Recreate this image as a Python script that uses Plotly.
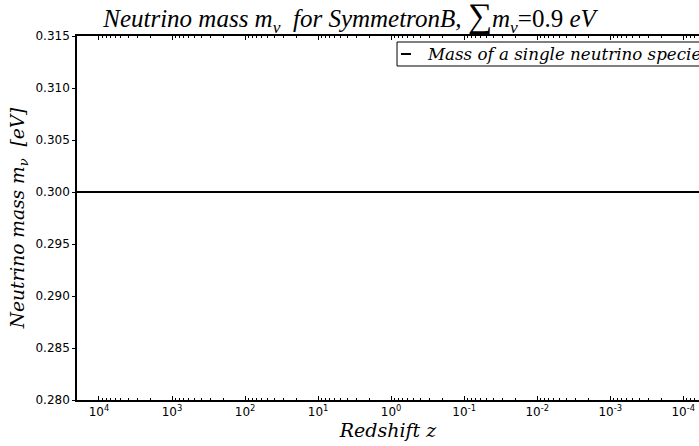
import plotly.graph_objects as go

# ---- data ----
redshift = [3e4, 1e4, 1e3, 1e2, 1e1, 1e0, 1e-1, 1e-2, 1e-3, 1e-4, 1e-5]
neutrino_mass = [0.3, 0.3, 0.3, 0.3, 0.3, 0.3, 0.3, 0.3, 0.3, 0.3, 0.3]
x_tick_vals = [1e4, 1e3, 1e2, 1e1, 1e0, 1e-1, 1e-2, 1e-3, 1e-4]
x_tick_text = ["10<sup>4</sup>", "10<sup>3</sup>", "10<sup>2</sup>", "10<sup>1</sup>",
               "10<sup>0</sup>", "10<sup>-1</sup>", "10<sup>-2</sup>", "10<sup>-3</sup>",
               "10<sup>-4</sup>"]
y_tick_vals = [0.280, 0.285, 0.290, 0.295, 0.300, 0.305, 0.310, 0.315]
y_tick_text = ["0.280", "0.285", "0.290", "0.295", "0.300", "0.305", "0.310", "0.315"]
legend_label = "Mass of a single neutrino species"

minor_vals = [m * 10 ** e for e in range(-5, 5) for m in range(2, 10)]

SERIF = "Liberation Serif, DejaVu Serif, serif"
WSERIF = "DejaVu Serif, serif"
SANS = "DejaVu Sans, sans-serif"

fig = go.Figure()
fig.add_trace(go.Scatter(x=redshift, y=neutrino_mass, mode="lines",
                         line=dict(color="black", width=2), showlegend=False,
                         name=legend_label))

fig.update_layout(
    width=699, height=446,
    margin=dict(l=77, r=0, t=36, b=46),
    paper_bgcolor="white", plot_bgcolor="white",
    title=dict(text="<i>Neutrino mass m<sub>ν</sub>  for SymmetronB,</i> <span style='font-size:34px'>∑</span><i>m<sub>ν</sub></i>=0.9 <i>eV</i>",
               x=0.5, xanchor="center", y=0.958, yanchor="middle",
               font=dict(family=SERIF, size=25, color="black")),
    xaxis=dict(type="log", range=[4.301, -4.215], autorange=False,
               tickmode="array", tickvals=x_tick_vals, ticktext=x_tick_text,
               ticks="inside", ticklen=4, tickcolor="black",
               showline=True, linecolor="black", linewidth=1.5, mirror="ticks",
               showgrid=False, zeroline=False,
               tickfont=dict(family=SANS, size=12, color="black"),
               minor=dict(tickmode="array", tickvals=minor_vals, ticks="inside",
                          ticklen=2, tickcolor="black", showgrid=False),
               title=dict(text="<i>Redshift z</i>", standoff=4,
                          font=dict(family=WSERIF, size=19, color="black"))),
    yaxis=dict(range=[0.280, 0.315], autorange=False,
               tickmode="array", tickvals=y_tick_vals, ticktext=y_tick_text,
               ticks="outside", ticklen=3, tickcolor="black",
               showline=True, linecolor="black", linewidth=1.5, mirror=False,
               showgrid=False, zeroline=False,
               tickfont=dict(family=SANS, size=12, color="black"),
               title=dict(text="<i>Neutrino mass m<sub>ν</sub>  [eV]</i>", standoff=6,
                          font=dict(family=WSERIF, size=18.6, color="black"))),
)

# legend box (drawn manually, extends beyond the right edge like the reference)
fig.add_shape(type="rect", xref="paper", yref="paper",
              x0=0.5145, x1=1.1, y0=0.9176, y1=0.9835,
              line=dict(color="black", width=1), fillcolor="white", layer="above")
fig.add_shape(type="line", xref="paper", yref="paper",
              x0=0.5209, x1=0.537, y0=0.9505, y1=0.9505,
              line=dict(color="black", width=2), layer="above")
fig.add_annotation(xref="paper", yref="paper", x=0.5595, y=0.9505,
                   xanchor="left", yanchor="middle", showarrow=False,
                   text="<i>" + legend_label + "</i>",
                   font=dict(family=WSERIF, size=16.7, color="black"))

fig.write_html("out.html")
